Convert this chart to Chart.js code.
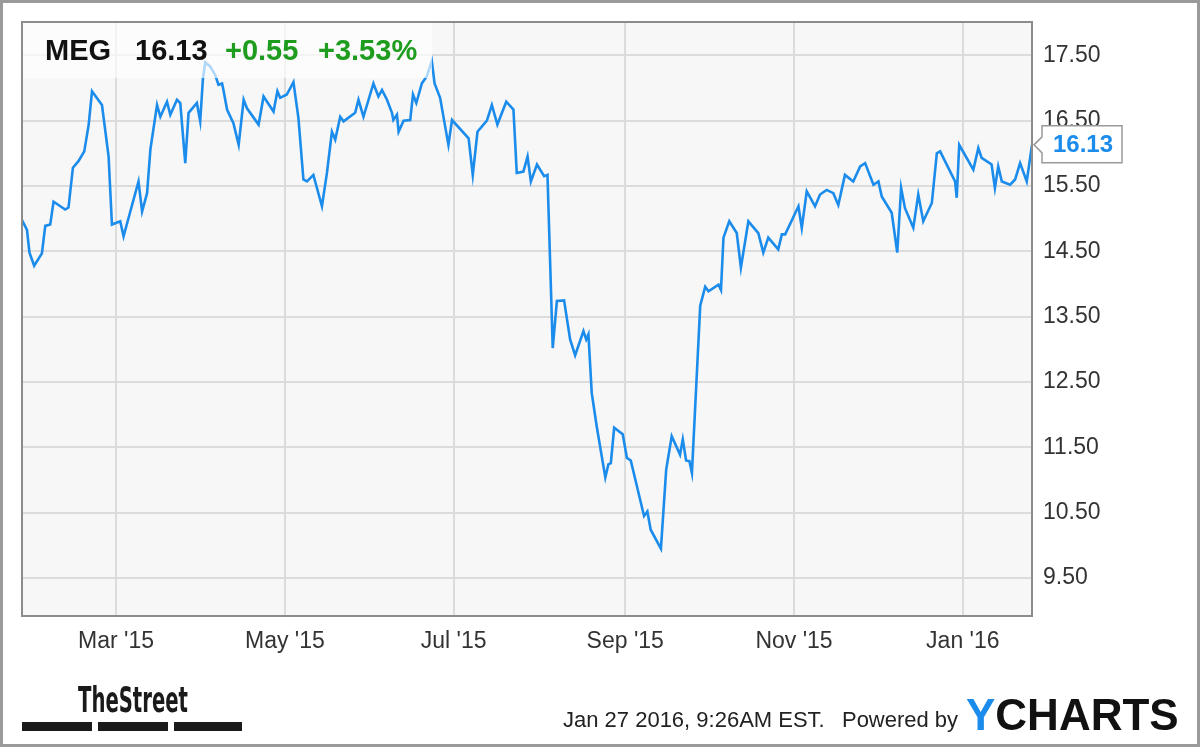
<!DOCTYPE html>
<html>
<head>
<meta charset="utf-8">
<script src="https://cdn.jsdelivr.net/npm/chart.js@4.4.1/dist/chart.umd.min.js"></script>
<style>
  html, body { margin: 0; padding: 0; background: #fff; }
  #chart { display: block; }
</style>
</head>
<body>
<canvas id="chart" width="1200" height="747"></canvas>
<script>
// MEG daily close, Jan 2015 - Jan 2016 (day = day of year 2015, 365 = Jan 1 2016)
const days = [
  25, 26.8, 27.7, 29.4, 32.2, 33.4, 35.2, 36.4, 38.2, 40.6, 41.8, 43.4, 45.4, 47.5, 49.1, 50.3,
  53.9, 56.3, 57.5, 60.5, 61.7, 67.1, 68.4, 70.2, 71.4, 73.8, 75.0, 77.4, 78.6, 81.0, 82.2, 84.0,
  85.2, 88.2, 89.4, 90.4, 91.2, 93.0, 94.8, 96.0, 97.3, 97.8, 99.1, 101.4, 103.3, 105.1, 106.3, 110.5,
  112.3, 115.9, 117.3, 118.3, 120.7, 123.1, 124.9, 126.7, 128.0, 130.3, 133.4, 135.2, 137.0, 138.2, 140.0, 141.2,
  145.4, 146.6, 148.4, 152.0, 153.8, 155.1, 156.9, 158.7, 159.2, 160.5, 161.1, 162.9, 165.3, 166.3, 167.5, 169.5,
  171.3, 173.1, 174.1, 176.1, 179.1, 180.4, 186.4, 187.9, 189.6, 193.0, 194.8, 196.8, 200.0, 202.6, 203.8, 206.2,
  207.7, 208.9, 211.1, 213.7, 214.9, 216.8, 218.3, 220.9, 223.1, 224.9, 227.9, 228.9, 229.7, 230.9, 232.7, 235.8,
  236.9, 237.8, 239.0, 242.1, 243.6, 245.0, 249.8, 251.0, 252.2, 255.9, 257.8, 259.8, 262.8, 263.8, 265.0, 266.2,
  267.1, 270.1, 271.9, 273.1, 276.7, 277.6, 278.5, 280.6, 283.3, 284.8, 287.5, 291.1, 292.9, 294.7, 298.3, 299.6,
  300.8, 305.6, 306.8, 308.6, 311.6, 313.4, 315.8, 318.2, 320.0, 322.4, 325.4, 327.9, 329.7, 332.7, 334.5, 335.7,
  339.3, 341.3, 342.7, 344.1, 347.1, 348.9, 350.7, 353.8, 355.6, 356.8, 362.2, 362.8, 363.7, 368.8, 370.6, 371.8,
  375.4, 376.6, 377.8, 379.1, 382.1, 383.9, 385.7, 388.1, 390
];
const prices = [
  14.98, 14.83, 14.48, 14.28, 14.47, 14.89, 14.91, 15.26, 15.21, 15.14, 15.17, 15.78, 15.88, 16.03, 16.44, 16.95,
  16.74, 15.95, 14.91, 14.96, 14.73, 15.57, 15.11, 15.39, 16.06, 16.74, 16.56, 16.79, 16.59, 16.82, 16.77, 15.85,
  16.62, 16.77, 16.49, 17.15, 17.39, 17.33, 17.20, 17.05, 17.07, 16.97, 16.67, 16.46, 16.13, 16.82, 16.69, 16.44,
  16.87, 16.64, 16.95, 16.85, 16.90, 17.09, 16.54, 15.60, 15.57, 15.67, 15.19, 15.70, 16.33, 16.21, 16.56, 16.49,
  16.62, 16.82, 16.56, 17.07, 16.87, 16.97, 16.82, 16.62, 16.51, 16.59, 16.33, 16.50, 16.51, 16.90, 16.77, 17.07,
  17.18, 17.41, 17.07, 16.85, 16.13, 16.51, 16.23, 15.67, 16.33, 16.50, 16.74, 16.44, 16.79, 16.67, 15.70, 15.72,
  15.95, 15.57, 15.83, 15.65, 15.67, 13.02, 13.74, 13.75, 13.15, 12.91, 13.28, 13.15, 13.23, 12.33, 11.82, 11.04,
  11.24, 11.26, 11.80, 11.70, 11.34, 11.30, 10.45, 10.52, 10.24, 9.95, 11.16, 11.67, 11.39, 11.62, 11.30, 11.29,
  11.11, 13.67, 13.96, 13.89, 13.99, 13.91, 14.71, 14.96, 14.78, 14.25, 14.96, 14.78, 14.48, 14.71, 14.53, 14.76,
  14.76, 15.19, 14.86, 15.42, 15.19, 15.37, 15.44, 15.39, 15.21, 15.67, 15.57, 15.80, 15.85, 15.52, 15.57, 15.34,
  15.09, 14.48, 15.47, 15.16, 14.86, 15.37, 14.96, 15.24, 16.00, 16.03, 15.57, 15.32, 16.13, 15.75, 16.08, 15.93,
  15.83, 15.47, 15.80, 15.57, 15.52, 15.60, 15.85, 15.57, 16.13
];

const xTickDays = [59, 120, 181, 243, 304, 365];
const xLabels = ["Mar '15", "May '15", "Jul '15", "Sep '15", "Nov '15", "Jan '16"];
const yTicks = [9.5, 10.5, 11.5, 12.5, 13.5, 14.5, 15.5, 16.5, 17.5];

const ticker = 'MEG';
const change = '+0.55';
const changePct = '+3.53%';
const stamp = 'Jan 27 2016, 9:26AM EST.';

const FONT = '"Liberation Sans", Arial, sans-serif';
const BLUE = '#1b8ceb';
const GREEN = '#1d9c1d';

const chartBg = {
  id: 'chartBg',
  beforeDraw(chart) {
    const { ctx, chartArea: a } = chart;
    ctx.save();
    ctx.fillStyle = '#fff';
    ctx.fillRect(0, 0, chart.width, chart.height);
    ctx.fillStyle = '#f7f7f7';
    ctx.fillRect(a.left, a.top, a.right - a.left, a.bottom - a.top);
    ctx.restore();
  },
  afterDatasetsDraw(chart) {
    const { ctx, chartArea: a } = chart;
    ctx.save();
    // header box over the line
    ctx.fillStyle = 'rgba(255,255,255,0.65)';
    ctx.fillRect(a.left, a.top, 410, 56);
    ctx.font = 'bold 29px ' + FONT;
    ctx.textBaseline = 'alphabetic';
    ctx.fillStyle = '#111';
    ctx.fillText(ticker, 45, 60);
    ctx.fillText(prices[prices.length - 1].toFixed(2), 135, 60);
    ctx.fillStyle = GREEN;
    ctx.fillText(change, 225, 60);
    ctx.fillText(changePct, 318, 60);
    // plot frame
    ctx.strokeStyle = '#8c8c8c';
    ctx.lineWidth = 2;
    ctx.strokeRect(a.left, a.top, a.right - a.left, a.bottom - a.top);
    ctx.restore();
  },
  afterDraw(chart) {
    const { ctx } = chart;
    const meta = chart.getDatasetMeta(0);
    const last = meta.data[meta.data.length - 1];
    const px = last.x, py = last.y;
    ctx.save();
    // last value callout
    const bx = 1042, bw = 80, bh = 37, by = py - 19;
    ctx.beginPath();
    ctx.moveTo(bx, by);
    ctx.lineTo(bx + bw, by);
    ctx.lineTo(bx + bw, by + bh);
    ctx.lineTo(bx, by + bh);
    ctx.lineTo(bx, py + 8);
    ctx.lineTo(px + 2, py);
    ctx.lineTo(bx, py - 8);
    ctx.closePath();
    ctx.fillStyle = '#fff';
    ctx.fill();
    ctx.strokeStyle = '#999';
    ctx.lineWidth = 1.5;
    ctx.stroke();
    ctx.fillStyle = BLUE;
    ctx.font = 'bold 24px ' + FONT;
    ctx.textAlign = 'center';
    ctx.textBaseline = 'middle';
    ctx.fillText(prices[prices.length - 1].toFixed(2), bx + bw / 2 + 1, py + 1);

    // footer: TheStreet logo
    ctx.textAlign = 'left';
    ctx.textBaseline = 'alphabetic';
    ctx.fillStyle = '#1a1a1a';
    ctx.font = 'bold 36px "Liberation Sans Narrow", "DejaVu Sans Condensed", sans-serif';
    ctx.fillText('TheStreet', 78, 712, 110);
    ctx.fillRect(22, 722, 70, 9);
    ctx.fillRect(98, 722, 70, 9);
    ctx.fillRect(174, 722, 68, 9);

    // footer: time stamp and YCharts
    ctx.fillStyle = '#222';
    ctx.font = '22px ' + FONT;
    ctx.fillText(stamp, 563, 727, 272);
    ctx.fillText('Powered by', 842, 727, 116);
    ctx.font = 'bold 44px ' + FONT;
    ctx.fillStyle = BLUE;
    ctx.fillText('Y', 966, 730);
    const yw = ctx.measureText('Y').width;
    ctx.fillStyle = '#111';
    ctx.fillText('CHARTS', 966 + yw, 730);

    // outer frame
    ctx.strokeStyle = '#9a9a9a';
    ctx.lineWidth = 3;
    ctx.strokeRect(1.5, 1.5, chart.width - 3, chart.height - 3);
    ctx.restore();
  }
};

new Chart(document.getElementById('chart'), {
  type: 'line',
  data: {
    datasets: [{
      data: days.map((d, i) => ({ x: d, y: prices[i] })),
      borderColor: BLUE,
      borderWidth: 2.6,
      pointRadius: 0,
      tension: 0,
      fill: false
    }]
  },
  options: {
    responsive: false,
    animation: false,
    layout: { padding: { left: 22, top: 22, right: 0, bottom: 0 } },
    plugins: {
      legend: { display: false },
      tooltip: { enabled: false }
    },
    scales: {
      x: {
        type: 'linear',
        min: 25,
        max: 390,
        afterBuildTicks: s => { s.ticks = xTickDays.map(v => ({ value: v })); },
        afterFit: s => { s.height = 131; s.paddingLeft = 0; s.paddingRight = 0; },
        grid: { color: '#dcdcdc', lineWidth: 2, drawTicks: false },
        border: { display: false },
        ticks: {
          autoSkip: false,
          maxRotation: 0,
          padding: 12,
          color: '#333',
          font: { family: FONT, size: 23 },
          callback: (v, i) => xLabels[i]
        }
      },
      y: {
        position: 'right',
        min: 8.92,
        max: 18.01,
        afterBuildTicks: s => { s.ticks = yTicks.map(v => ({ value: v })); },
        afterFit: s => { s.width = 168; s.paddingTop = 0; s.paddingBottom = 0; },
        grid: { color: '#dcdcdc', lineWidth: 2, drawTicks: false },
        border: { display: false },
        ticks: {
          padding: 11,
          color: '#333',
          font: { family: FONT, size: 23 },
          callback: v => v.toFixed(2)
        }
      }
    }
  },
  plugins: [chartBg]
});
</script>
</body>
</html>
